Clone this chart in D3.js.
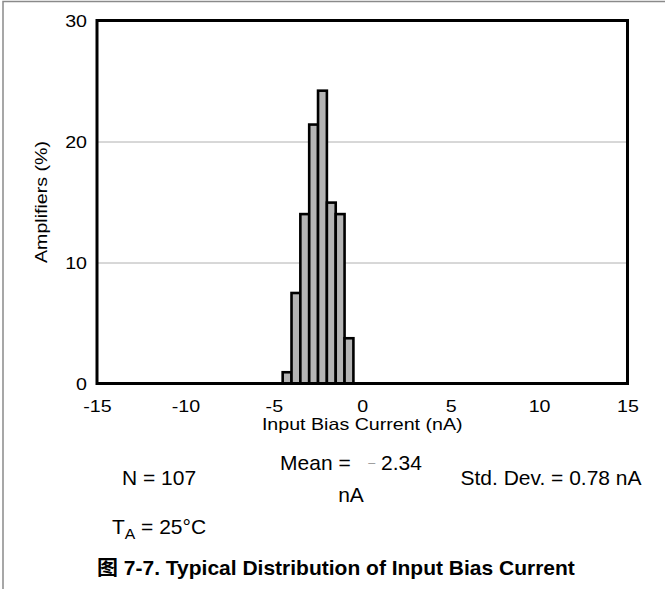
<!DOCTYPE html>
<html>
<head>
<meta charset="utf-8">
<script src="https://cdn.jsdelivr.net/npm/d3@7"></script>
<style>
  html, body { margin: 0; padding: 0; background: #fff; }
  svg { display: block; }
  text { font-family: "Liberation Sans", Arial, "Noto Sans CJK SC", sans-serif; fill: #000; }
</style>
</head>
<body>
<svg id="chart" width="665" height="589"></svg>
<script>
// Histogram bins (left edges, nA) and share of amplifiers in each bin (%)
const binStarts = [-4.5, -4.0, -3.5, -3.0, -2.5, -2.0, -1.5, -1.0];
const binWidth = 0.5;
const percents = [0.93, 7.48, 14.0, 21.4, 24.2, 14.95, 14.0, 3.74];

// Axis ticks and reference grid
const xTicks = [-15, -10, -5, 0, 5, 10, 15];
const yTicks = [0, 10, 20, 30];
const gridValues = [10, 20];

// Statistics printed under the plot
const statN = "N = 107";
const statMean = "2.34";
const statStd = "Std. Dev. = 0.78 nA";
const tempLabel = ["T", "A", " = 25°C"];
const caption = "图 7-7. Typical Distribution of Input Bias Current";

const svg = d3.select("#chart");
const W = 665, H = 589;
const SX_AXIS = 1.19;   // horizontal stretch of the axis lettering
const SX_NOTE = 1.05;   // horizontal stretch of the notes and caption

const x = d3.scaleLinear().domain([-15, 15]).range([97, 627.5]);
const y = d3.scaleLinear().domain([0, 30]).range([383.5, 20.5]);

// outer figure border (top and left edges)
svg.append("path")
  .attr("d", `M3,${H} L3,1.5 L${W},1.5`)
  .attr("fill", "none")
  .attr("stroke", "#8a8a8a")
  .attr("stroke-width", 1.5);

// horizontal grid lines
const grid = svg.append("g")
  .attr("transform", `translate(${x(-15)},0)`)
  .call(d3.axisLeft(y).tickValues(gridValues).tickSize(-(x(15) - x(-15))).tickFormat(""));
grid.select(".domain").remove();
grid.selectAll("line").attr("stroke", "#b0b0b0").attr("stroke-width", 1);

// bars
svg.append("g")
  .selectAll("rect")
  .data(binStarts.map((s, i) => ({ s, p: percents[i] })))
  .join("rect")
  .attr("x", d => x(d.s))
  .attr("width", d => x(d.s + binWidth) - x(d.s))
  .attr("y", d => y(d.p))
  .attr("height", d => y(0) - y(d.p))
  .attr("fill", "#b4b4b4")
  .attr("stroke", "#000")
  .attr("stroke-width", 2.6);

// plot frame
svg.append("rect")
  .attr("x", x(-15))
  .attr("y", y(30))
  .attr("width", x(15) - x(-15))
  .attr("height", y(0) - y(30))
  .attr("fill", "none")
  .attr("stroke", "#000")
  .attr("stroke-width", 3);

// x axis tick labels
const xAxis = svg.append("g")
  .attr("transform", "translate(0,412)")
  .call(d3.axisBottom(x).tickValues(xTicks).tickSize(0).tickFormat(d => String(d)));
xAxis.select(".domain").remove();
xAxis.attr("font-family", null).attr("font-size", null);
xAxis.selectAll("text")
  .attr("y", 0).attr("dy", null)
  .attr("transform", `scale(${SX_AXIS},1)`)
  .style("font-size", "16.5px")
  .attr("fill", "#000");

// y axis tick labels
const yAxis = svg.append("g")
  .attr("transform", `translate(${x(-15)},0)`)
  .call(d3.axisLeft(y).tickValues(yTicks).tickSize(0).tickFormat(d => String(d)));
yAxis.select(".domain").remove();
yAxis.attr("font-family", null).attr("font-size", null);
yAxis.selectAll("text")
  .attr("x", -10 / SX_AXIS).attr("dy", "0.36em")
  .attr("transform", `scale(${SX_AXIS},1)`)
  .style("font-size", "16.5px")
  .attr("fill", "#000");

function label(px, py, txt, size, anchor, sx, extra) {
  const t = svg.append("text")
    .attr("transform", `translate(${px},${py}) ${extra || ""} scale(${sx},1)`)
    .attr("text-anchor", anchor)
    .style("font-size", size + "px")
    .style("white-space", "pre");
  if (txt !== null) t.text(txt);
  return t;
}

// axis titles
label((x(-15) + x(15)) / 2, 430, "Input Bias Current (nA)", 16.5, "middle", SX_AXIS);
label(47, (y(0) + y(30)) / 2, "Amplifiers (%)", 16.5, "middle", SX_AXIS, "rotate(-90)");

// statistics
label(159, 485, statN, 20, "middle", SX_NOTE);
label(551, 485, statStd, 20, "middle", SX_NOTE);
const mean = label(351, 470, null, 20, "middle", SX_NOTE);
mean.append("tspan").text("Mean =   ");
mean.append("tspan").text("\u2013").attr("fill", "#999").attr("dy", -3).style("font-size", "12px");
mean.append("tspan").text(" " + statMean).attr("dy", 3);
label(351, 502, "nA", 20, "middle", SX_NOTE);

const ta = label(159, 534, null, 20, "middle", SX_NOTE);
ta.append("tspan").text(tempLabel[0]);
ta.append("tspan").text(tempLabel[1]).attr("dy", 5).style("font-size", "15px");
ta.append("tspan").text(tempLabel[2]).attr("dy", -5);

// figure caption
label(97, 575, caption, 20, "start", SX_NOTE).style("font-weight", "bold");
</script>
</body>
</html>
